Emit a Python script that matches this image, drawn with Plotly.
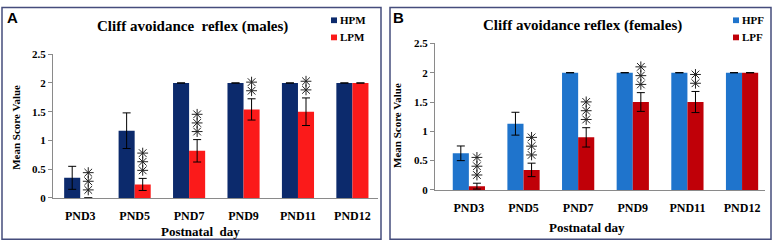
import plotly.graph_objects as go

categories = ["PND3", "PND5", "PND7", "PND9", "PND11", "PND12"]

# Panel A (males)
hpm_mean = [0.35, 1.17, 2.0, 2.0, 2.0, 2.0]
hpm_err = [0.20, 0.31, 0.0, 0.0, 0.0, 0.0]
lpm_mean = [0.0, 0.235, 0.82, 1.54, 1.50, 2.0]
lpm_err = [0.0, 0.105, 0.195, 0.185, 0.24, 0.0]
male_stars = [3, 3, 3, 2, 2, 0]

# Panel B (females)
hpf_mean = [0.625, 1.13, 2.0, 2.0, 2.0, 2.0]
hpf_err = [0.125, 0.195, 0.0, 0.0, 0.0, 0.0]
lpf_mean = [0.065, 0.342, 0.897, 1.50, 1.50, 2.0]
lpf_err = [0.05, 0.115, 0.165, 0.16, 0.18, 0.0]
female_stars = [3, 3, 3, 3, 2, 0]

yticks = [0, 0.5, 1, 1.5, 2, 2.5]
ytick_text = ["0", "0.5", "1", "1.5", "2", "2.5"]

W, H = 775, 248
BW = 0.295
SERIF = "Liberation Serif"
SANS = "Liberation Sans"

def px(x):
    return x / W

def py(y):
    return 1 - y / H

fig = go.Figure()
xs = list(range(len(categories)))

def add_panel(xa, ya, hmean, herr, lmean, lerr, stars, hname, lname, hcol, lcol):
    fig.add_trace(go.Bar(x=xs, y=hmean, width=BW, offset=-BW, name=hname,
                         marker=dict(color=hcol, line=dict(width=0)),
                         error_y=dict(type="data", array=herr, color="black", thickness=1, width=4),
                         xaxis=xa, yaxis=ya, showlegend=False))
    fig.add_trace(go.Bar(x=xs, y=lmean, width=BW, offset=0, name=lname,
                         marker=dict(color=lcol, line=dict(width=0)),
                         error_y=dict(type="data", array=lerr, color="black", thickness=1, width=4),
                         xaxis=xa, yaxis=ya, showlegend=False))
    sx, sy = [], []
    for i, n in enumerate(stars):
        top = lmean[i] + lerr[i]
        for k in range(n):
            sx.append(i + BW / 2)
            sy.append(top + 0.14 + k * 0.15)
    fig.add_trace(go.Scatter(x=sx, y=sy, mode="markers",
                             marker=dict(symbol="asterisk-open", size=9, color="#222222",
                                         line=dict(color="#222222", width=1)),
                             xaxis=xa, yaxis=ya, showlegend=False, hoverinfo="skip"))

add_panel("x", "y", hpm_mean, hpm_err, lpm_mean, lpm_err, male_stars,
          "HPM", "LPM", "#0c2a6c", "#fb1a1a")
add_panel("x2", "y2", hpf_mean, hpf_err, lpf_mean, lpf_err, female_stars,
          "HPF", "LPF", "#1f74cc", "#c00008")

axis_font = dict(family=SERIF, size=11, color="black", weight="bold")
xfont = dict(family=SERIF, size=12, color="black", weight="bold")

def xaxis(domain, rng, anchor):
    return dict(domain=domain, range=rng, anchor=anchor, tickvals=xs, ticktext=categories,
                tickfont=xfont, showgrid=False, zeroline=False, showline=True,
                linecolor="#8a8a8a", linewidth=1, ticks="outside", ticklen=7,
                tickcolor="rgba(0,0,0,0)", fixedrange=True)

def yaxis(domain, anchor):
    return dict(domain=domain, range=[0, 2.5], anchor=anchor, tickvals=yticks,
                ticktext=ytick_text, tickfont=axis_font, showgrid=False, zeroline=False,
                showline=True, linecolor="#8a8a8a", linewidth=1, ticks="outside",
                ticklen=4, tickcolor="#8a8a8a", fixedrange=True)

fig.update_layout(
    width=W, height=H, margin=dict(l=0, r=0, t=0, b=0),
    paper_bgcolor="white", plot_bgcolor="white", barmode="overlay",
    xaxis=xaxis([px(53), px(378)], [-0.5, 5.47], "y"),
    yaxis=yaxis([1 - 201.7 / H, 1 - 50.7 / H], "x"),
    xaxis2=xaxis([px(435), px(765)], [-0.62, 5.42], "y2"),
    yaxis2=yaxis([1 - 193.3 / H, 1 - 39.3 / H], "x2"),
)

shapes = []
annotations = []

def text(x, y, s, size, family=SERIF, xanchor="center", angle=0):
    annotations.append(dict(x=px(x), y=py(y), xref="paper", yref="paper", text=s,
                            showarrow=False, xanchor=xanchor, yanchor="middle",
                            textangle=angle, font=dict(family=family, size=size, color="black")))

# Panel borders
for x0, x1 in [(2, 381), (390, 771)]:
    shapes.append(dict(type="rect", xref="paper", yref="paper", x0=px(x0), x1=px(x1),
                       y0=py(245), y1=py(1.5), line=dict(color="#454d7c", width=1.5)))

# Panel A texts
text(12, 12, "<b>A</b>", 15, SANS)
text(192, 22, "<b>Cliff avoidance  reflex (males)</b>", 15)
text(16, 128, "<b>Mean Score Value</b>", 11, angle=-90)
text(200, 237, "<b>Postnatal  day</b>", 13)
# Panel B texts
text(398, 12, "<b>B</b>", 15, SANS)
text(582, 21, "<b>Cliff avoidance reflex (females)</b>", 15)
text(397, 125, "<b>Mean Score Value</b>", 11, angle=-90)
text(587, 233, "<b>Postnatal day</b>", 13)

# Legends
for (sx, names, cols) in [(331, ["HPM", "LPM"], ["#0c2a6c", "#fb1a1a"]),
                          (733, ["HPF", "LPF"], ["#1f74cc", "#c00008"])]:
    for j, (nm, c) in enumerate(zip(names, cols)):
        yc = 15 + 18 * j
        shapes.append(dict(type="rect", xref="paper", yref="paper", x0=px(sx), x1=px(sx + 6),
                           y0=py(yc + 3), y1=py(yc - 3), fillcolor=c, line=dict(width=0)))
        text(sx + 7, yc, "<b>" + nm + "</b>", 11, xanchor="left")

fig.update_layout(shapes=shapes, annotations=annotations)
fig.write_html("out.html", config={"displayModeBar": False},
               post_script="document.body.style.margin='0';document.body.style.overflow='hidden';")
